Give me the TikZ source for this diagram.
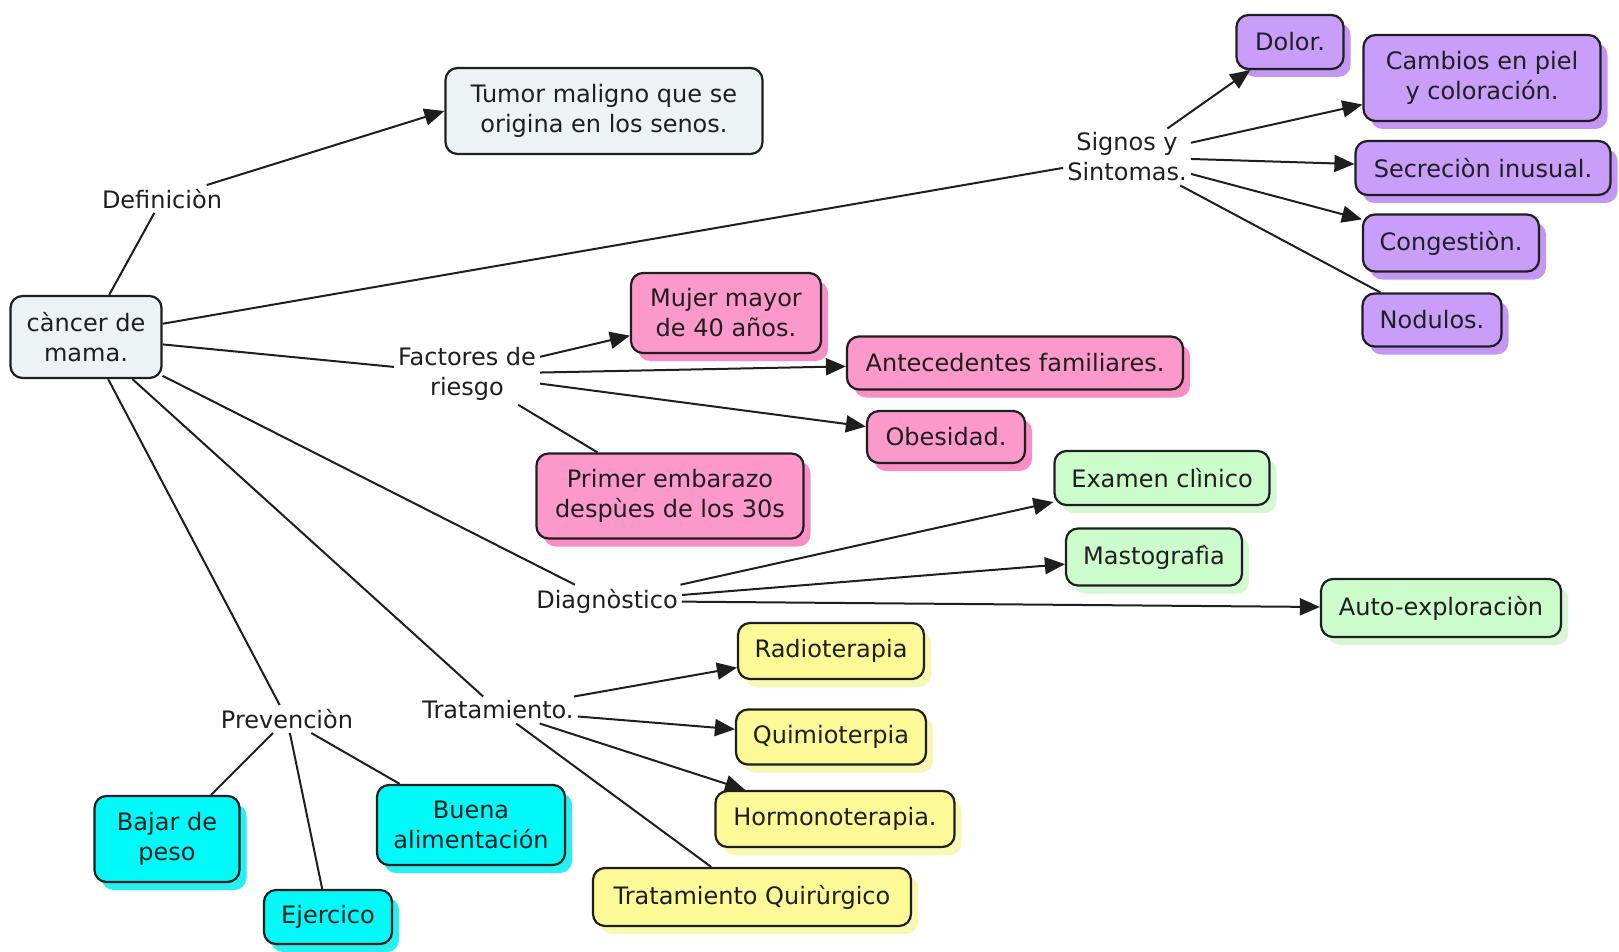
\documentclass[tikz,border=0pt]{standalone}
\usepackage{fontspec}
\setmainfont{DejaVu Sans}
\usepackage{tikz}
\usetikzlibrary{arrows.meta, shadows}
\tikzset{>={Triangle[length=20pt,width=17pt]}}
\definecolor{greybox}{RGB}{237,243,245}
\definecolor{purplebox}{RGB}{200,158,250}
\definecolor{purpleshade}{RGB}{196,150,244}
\definecolor{pinkbox}{RGB}{252,152,202}
\definecolor{pinkshade}{RGB}{248,142,196}
\definecolor{greenbox}{RGB}{204,252,204}
\definecolor{greenshade}{RGB}{212,248,210}
\definecolor{yellowbox}{RGB}{252,250,150}
\definecolor{yellowshade}{RGB}{248,248,178}
\definecolor{cyanbox}{RGB}{0,250,250}
\definecolor{cyanshade}{RGB}{40,240,240}
\definecolor{inktext}{RGB}{30,30,30}
\tikzset{
concept/.style={draw=inktext, line width=2.2pt, rounded corners=12pt, align=center,
  inner sep=4pt, text=inktext, font=\fontsize{24}{30}\selectfont},
shaded/.style={drop shadow={shadow xshift=7pt, shadow yshift=-8pt, fill=#1, opacity=1}},
greyconcept/.style={concept, fill=greybox},
purpleconcept/.style={concept, fill=purplebox, shaded=purpleshade},
pinkconcept/.style={concept, fill=pinkbox, shaded=pinkshade},
greenconcept/.style={concept, fill=greenbox, shaded=greenshade},
yellowconcept/.style={concept, fill=yellowbox, shaded=yellowshade},
cyanconcept/.style={concept, fill=cyanbox, shaded=cyanshade},
linkphrase/.style={align=center, inner sep=4pt, text=inktext, font=\fontsize{24}{30}\selectfont}
}
\begin{document}
\begin{tikzpicture}[x=1pt, y=-1pt]
\useasboundingbox (0,0) rectangle (1619,952);

\node[greyconcept, minimum width=151pt, minimum height=82pt] (cancer) at (86,337) {càncer de\\mama.};
\node[greyconcept, minimum width=317pt, minimum height=86pt] (tumor) at (604,111) {Tumor maligno que se\\origina en los senos.};

\node[linkphrase] (def) at (162,199) {Definiciòn};
\node[linkphrase] (signos) at (1127,157) {Signos y\\Sintomas.};
\node[linkphrase] (factores) at (467,374) {Factores de\\riesgo};
\node[linkphrase] (diag) at (607,601) {Diagnòstico};
\node[linkphrase] (trat) at (498,710) {Tratamiento.};
\node[linkphrase] (prev) at (287,719) {Prevenciòn};

\node[purpleconcept, minimum width=107pt, minimum height=54pt] (dolor) at (1290,42) {Dolor.};
\node[purpleconcept, minimum width=237pt, minimum height=86pt] (cambios) at (1482,78) {Cambios en piel\\y coloración.};
\node[purpleconcept, minimum width=255pt, minimum height=54pt] (secrecion) at (1483,168) {Secreciòn inusual.};
\node[purpleconcept, minimum width=176pt, minimum height=57pt] (congestion) at (1451,243) {Congestiòn.};
\node[purpleconcept, minimum width=139pt, minimum height=53pt] (nodulos) at (1432,320) {Nodulos.};

\node[pinkconcept, minimum width=190pt, minimum height=80pt] (mujer) at (726,313) {Mujer mayor\\de 40 años.};
\node[pinkconcept, minimum width=336pt, minimum height=53pt] (antecedentes) at (1015,363) {Antecedentes familiares.};
\node[pinkconcept, minimum width=158pt, minimum height=52pt] (obesidad) at (946,437) {Obesidad.};
\node[pinkconcept, minimum width=267pt, minimum height=85pt] (embarazo) at (670,496) {Primer embarazo\\despùes de los 30s};

\node[greenconcept, minimum width=215pt, minimum height=54pt] (examen) at (1162,478) {Examen clìnico};
\node[greenconcept, minimum width=176pt, minimum height=57pt] (masto) at (1154,557) {Mastografìa};
\node[greenconcept, minimum width=240pt, minimum height=58pt] (auto) at (1441,608) {Auto-exploraciòn};

\node[yellowconcept, minimum width=186pt, minimum height=56pt] (radio) at (831,651) {Radioterapia};
\node[yellowconcept, minimum width=190pt, minimum height=55pt] (quimio) at (831,737) {Quimioterpia};
\node[yellowconcept, minimum width=239pt, minimum height=56pt] (hormono) at (835,819) {Hormonoterapia.};
\node[yellowconcept, minimum width=318pt, minimum height=58pt] (cirugia) at (752,897) {Tratamiento Quirùrgico};

\node[cyanconcept, minimum width=145pt, minimum height=86pt] (peso) at (167,839) {Bajar de\\peso};
\node[cyanconcept, minimum width=128pt, minimum height=54pt] (ejercicio) at (328,917) {Ejercico};
\node[cyanconcept, minimum width=188pt, minimum height=80pt] (alimentacion) at (471,825) {Buena\\alimentación};

\path[line width=2pt, draw=inktext]
(cancer) edge (def)
(cancer) edge (signos)
(cancer) edge (factores)
(cancer) edge (diag)
(cancer) edge (trat)
(cancer) edge (prev)
(signos) edge (nodulos)
(factores) edge (embarazo)
(trat) edge (cirugia)
(prev) edge (peso)
(prev) edge (ejercicio)
(prev) edge (alimentacion)
;
\path[->, line width=2pt, draw=inktext, fill=inktext]
(def) edge (tumor.west)
(signos) edge (dolor)
(signos) edge (cambios)
(signos) edge (secrecion)
(signos) edge (congestion)
(factores) edge (mujer)
(factores) edge (antecedentes)
(factores) edge (obesidad)
(diag) edge (examen)
(diag) edge (masto)
(diag) edge (auto)
(trat) edge (radio)
(trat) edge (quimio)
(trat) edge (hormono)
;
\end{tikzpicture}
\end{document}
